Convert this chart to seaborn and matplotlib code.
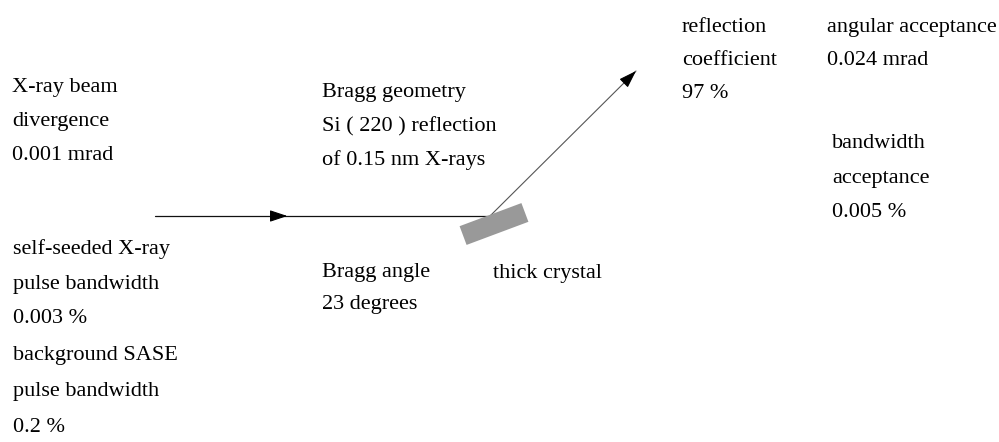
import numpy as np
import seaborn as sns
import matplotlib.pyplot as plt
from matplotlib.patches import Polygon

# text blocks of the diagram (one string per line)
block_lines = [
    ["X-ray beam", "divergence", "0.001 mrad"],
    ["self-seeded X-ray", "pulse bandwidth", "0.003 %"],
    ["background SASE", "pulse bandwidth", "0.2 %"],
    ["Bragg geometry", "Si ( 220 ) reflection", "of 0.15 nm X-rays"],
    ["Bragg angle", "23 degrees"],
    ["thick crystal"],
    ["reflection", "coefficient", "97 %"],
    ["angular acceptance", "0.024 mrad"],
    ["bandwidth", "acceptance", "0.005 %"],
]
# left edge and first baseline of each block (pixel units, y down)
block_x = [12, 13, 13, 322, 322, 493, 682, 827, 832]
block_y = [92, 254, 360, 97, 277, 278, 32, 32, 148]
line_step = [34, 34.5, 36, 34, 32, 0, 33, 33, 34.5]

# beam path: source -> crystal -> reflected
incoming_x = [155, 490]
incoming_y = [216, 216]
reflected_x = [490, 636]
reflected_y = [216, 71]

# crystal slab
crystal_center = (494, 224)
crystal_len = 66
crystal_thick = 20
crystal_angle = 20.5  # degrees

sns.set_theme(style='white')
plt.rcParams['font.family'] = ['Liberation Serif', 'DejaVu Serif']

fig = plt.figure(figsize=(9.99, 4.42), dpi=100)
ax = fig.add_axes([0, 0, 1, 1])
ax.set_xlim(0, 999)
ax.set_ylim(442, 0)
ax.axis('off')

# beams
sns.lineplot(x=incoming_x, y=incoming_y, sort=False, color='#111111', lw=0.9, ax=ax)
sns.lineplot(x=reflected_x, y=reflected_y, sort=False, color='#555555', lw=0.8, ax=ax)

arrow = dict(arrowstyle='-|>,head_length=0.9,head_width=0.3', color='black', lw=0.8,
             shrinkA=0, shrinkB=0)
mid_x = incoming_x[0] + 0.395 * (incoming_x[1] - incoming_x[0])
ax.annotate('', xy=(mid_x, incoming_y[0]), xytext=(mid_x - 10, incoming_y[0]), arrowprops=arrow)
dx = reflected_x[1] - reflected_x[0]
dy = reflected_y[1] - reflected_y[0]
ax.annotate('', xy=(reflected_x[1], reflected_y[1]),
            xytext=(reflected_x[1] - 0.08 * dx, reflected_y[1] - 0.08 * dy), arrowprops=arrow)

# crystal
a = np.deg2rad(crystal_angle)
u = np.array([np.cos(a), -np.sin(a)]) * crystal_len / 2
v = np.array([np.sin(a), np.cos(a)]) * crystal_thick / 2
c = np.array(crystal_center)
corners = [c - u - v, c + u - v, c + u + v, c - u + v]
ax.add_patch(Polygon(corners, closed=True, facecolor='#999999', edgecolor='none', zorder=3))

# labels
for lines, x0, y0, step in zip(block_lines, block_x, block_y, line_step):
    for i, txt in enumerate(lines):
        ax.text(x0, y0 + i * step, txt, fontsize=16, color='black',
                ha='left', va='baseline')

fig.savefig('out.png', dpi=100)
